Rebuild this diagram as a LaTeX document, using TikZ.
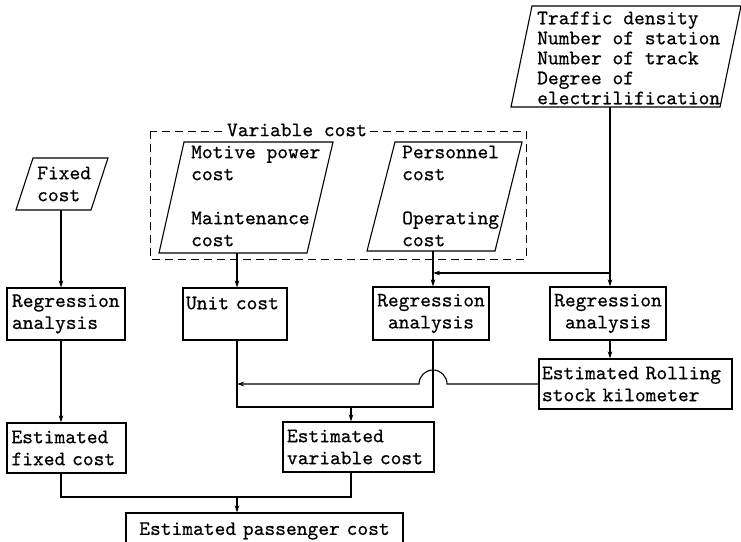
\documentclass[tikz,border=0pt]{standalone}
\usepackage{fontspec}
\usetikzlibrary{arrows.meta,calc}
\newfontfamily\typewfont{lmmono10-regular.otf}[FakeBold=0.5]
\newcommand\diagfont{\typewfont\fontsize{20.5}{22}\selectfont}
\newcommand\diagfontb{\typewfont\fontsize{20.5}{20}\selectfont}
\begin{document}
\begin{tikzpicture}[x=1pt,y=-1pt,
  ln/.style={line width=1.1pt},
  arr/.style={ln,-{Stealth[length=7pt,width=4.5pt]}},
  box/.style={draw,ln,rectangle,inner sep=0pt,font=\diagfont},
  txt/.style={inner sep=0pt,align=left,font=\diagfont}]
\useasboundingbox (0,0) rectangle (741,541);
\clip (0,0) rectangle (741,541);

% parallelograms
\draw[ln] (33,158) -- (108,158) -- (91,210) -- (16,210) -- cycle;
\node[txt,anchor=west] (fixT) at (37,184) {Fixed\\cost};
\coordinate (fixB) at (61,210);

\draw[ln] (184,142) -- (333,142) -- (307,253) -- (159,253) -- cycle;
\node[txt,anchor=west] (motT) at (191,196) {Motive power\\cost\\\mbox{}\\Maintenance\\cost};
\coordinate (motB) at (237,253);

\draw[ln] (395,142) -- (522,142) -- (495,251) -- (367,251) -- cycle;
\node[txt,anchor=west] (perT) at (402,196) {Personnel\\cost\\\mbox{}\\Operating\\cost};
\coordinate (persB) at (433,251);

\draw[ln] (532,6) -- (741,6) -- (720,107) -- (511,107) -- cycle;
\node[txt,anchor=west,font=\diagfontb] (trafT) at (537,58) {Traffic density\\Number of station\\Number of track\\Degree of\\electrilification};
\coordinate (trafB) at (610,107);

% dashed group
\draw[line width=1pt,dash pattern=on 8pt off 5pt] (150,131) rectangle (526,259);
\node[fill=white,inner xsep=3pt,inner ysep=0pt,font=\diagfont] (vc) at (297,130) {Variable cost};

% boxes
\node[box,minimum width=118pt,minimum height=52pt,text width=108pt,align=left] (regL) at (66,314) {Regression\\analysis};
\node[box,minimum width=104pt,minimum height=52pt,text width=98pt,align=left] (unit) at (235,314) {Unit cost\\\mbox{}};
\node[box,minimum width=116pt,minimum height=53pt,text width=110pt,align=center] (regM) at (431,313.5) {Regression\\analysis};
\node[box,minimum width=116pt,minimum height=53pt,text width=110pt,align=center] (regR) at (608,313.5) {Regression\\analysis};
\node[box,minimum width=193pt,minimum height=50pt,text width=187pt,align=left] (roll) at (635.5,384) {Estimated Rolling\\stock kilometer};
\node[box,minimum width=119pt,minimum height=50pt,text width=110pt,align=left] (estF) at (66.5,448) {Estimated\\fixed cost};
\node[box,minimum width=151pt,minimum height=50pt,text width=143pt,align=left] (estV) at (358.5,447) {Estimated\\variable cost};
\node[box,minimum width=277pt,minimum height=36pt,text width=270pt,align=center] (pass) at (264.5,531) {Estimated passenger cost};

\coordinate (jT) at (0,273);
\coordinate (jB) at (0,407);
\coordinate (jP) at (0,497);
\coordinate (vx) at (351,0);

% connectors
\draw[arr] (fixB) -- (fixB |- regL.north);
\draw[arr] (fixB |- regL.south) -- (fixB |- estF.north);
\draw[arr] (motB) -- (motB |- unit.north);
\draw[arr] (persB) -- (persB |- regM.north);
\draw[arr] (trafB) -- (trafB |- regR.north);
\draw[arr] (trafB |- jT) -- (persB |- jT);
\draw[arr] (trafB |- regR.south) -- (trafB |- roll.north);
\draw[arr] (roll.west) -- ($(persB |- roll.west)+(14,0)$) arc[start angle=0,end angle=-180,radius=14] -- (motB |- roll.west);
\draw[ln] (motB |- unit.south) |- (persB |- jB) -- (persB |- regM.south);
\draw[arr] (vx |- jB) -- (vx |- estV.north);
\draw[ln] (fixB |- estF.south) |- (vx |- jP) -- (vx |- estV.south);
\draw[arr] (motB |- jP) -- (motB |- pass.north);
\end{tikzpicture}
\end{document}
